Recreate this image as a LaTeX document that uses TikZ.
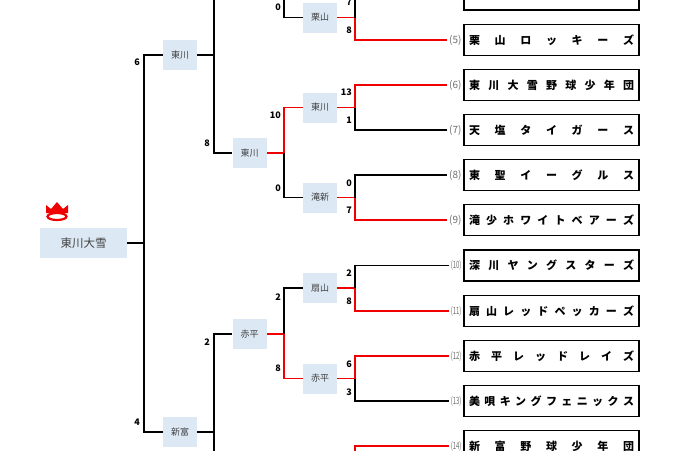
\documentclass[tikz,border=0pt]{standalone}
\usepackage{fontspec}
\setmainfont{Noto Sans CJK JP}
\definecolor{winbox}{HTML}{DCE8F4}
\definecolor{seedgray}{HTML}{6E6E6E}
\definecolor{winred}{HTML}{F00000}
\tikzset{
	team/.style={draw, line width=1.6pt, minimum width=175pt, minimum height=31pt, inner sep=0pt, font=\fontsize{11}{12}\selectfont\bfseries},
	win/.style={fill=winbox, minimum width=34pt, minimum height=30pt, inner sep=0pt, text=black!75, font=\fontsize{9}{10}\selectfont},
	score/.style={anchor=east, inner sep=0pt, font=\fontsize{9}{10}\selectfont\bfseries},
	seed/.style={anchor=east, inner sep=1.5pt, text=seedgray, font=\fontsize{10}{11}\selectfont},
	lose/.style={line width=1.6pt, black},
	won/.style={line width=1.9pt, winred},
}
\newcommand{\tname}[1]{\makebox[165pt][s]{#1}}
\begin{document}
\begin{tikzpicture}[x=1pt,y=-1pt]
\useasboundingbox (0,0) rectangle (680,450);
\clip (0,0) rectangle (680,450);

%Teams
\node [team] (t4)  at (551.5,-5.5) {\tname{砂\hfill 川\hfill イ\hfill ー\hfill グ\hfill ル\hfill ス}};
\node [team] (t5)  at (551.5,40)   {\tname{栗\hfill 山\hfill ロ\hfill ッ\hfill キ\hfill ー\hfill ズ}};
\node [team] (t6)  at (551.5,85)   {\tname{東\hfill 川\hfill 大\hfill 雪\hfill 野\hfill 球\hfill 少\hfill 年\hfill 団}};
\node [team] (t7)  at (551.5,130)  {\tname{天\hfill 塩\hfill タ\hfill イ\hfill ガ\hfill ー\hfill ス}};
\node [team] (t8)  at (551.5,175)  {\tname{東\hfill 聖\hfill イ\hfill ー\hfill グ\hfill ル\hfill ス}};
\node [team] (t9)  at (551.5,220)  {\tname{滝\hfill 少\hfill ホ\hfill ワ\hfill イ\hfill ト\hfill ベ\hfill ア\hfill ー\hfill ズ}};
\node [team] (t10) at (551.5,265.5){\tname{深\hfill 川\hfill ヤ\hfill ン\hfill グ\hfill ス\hfill タ\hfill ー\hfill ズ}};
\node [team] (t11) at (551.5,311)  {\tname{扇\hfill 山\hfill レ\hfill ッ\hfill ド\hfill ペ\hfill ッ\hfill カ\hfill ー\hfill ズ}};
\node [team] (t12) at (551.5,356)  {\tname{赤\hfill 平\hfill レ\hfill ッ\hfill ド\hfill レ\hfill イ\hfill ズ}};
\node [team] (t13) at (551.5,401)  {\tname{美\hfill 唄\hfill キ\hfill ン\hfill グ\hfill フ\hfill ェ\hfill ニ\hfill ッ\hfill ク\hfill ス}};
\node [team] (t14) at (551.5,446)  {\tname{新\hfill 富\hfill 野\hfill 球\hfill 少\hfill 年\hfill 団}};

%Seeds
\node [seed] (s4)  at (t4.west)  {(4)};
\node [seed] (s5)  at (t5.west)  {(5)};
\node [seed] (s6)  at (t6.west)  {(6)};
\node [seed] (s7)  at (t7.west)  {(7)};
\node [seed] (s8)  at (t8.west)  {(8)};
\node [seed] (s9)  at (t9.west)  {(9)};
\node [seed] (s10) at (t10.west) {\scalebox{0.6}[1]{(10)}};
\node [seed] (s11) at (t11.west) {\scalebox{0.6}[1]{(11)}};
\node [seed] (s12) at (t12.west) {\scalebox{0.6}[1]{(12)}};
\node [seed] (s13) at (t13.west) {\scalebox{0.6}[1]{(13)}};
\node [seed] (s14) at (t14.west) {\scalebox{0.6}[1]{(14)}};

%Winners
\node [win] (kuri)  at (320,17.5)  {栗山};
\node [win] (hk1)   at (320,107.5) {東川};
\node [win] (taki)  at (320,197.5) {滝新};
\node [win] (ogi)   at (320,288)   {扇山};
\node [win] (aka1)  at (320,378.5) {赤平};
\node [win] (hk2)   at (249.5,153) {東川};
\node [win] (aka2)  at (249.5,334) {赤平};
\node [win] (hk3)   at (180,55)    {東川};
\node [win] (shin)  at (180,432)   {新富};
\node [win, minimum width=87pt, font=\fontsize{11.5}{12}\selectfont] (champ) at (83.5,243) {東川大雪};

\coordinate (v1) at (355,0);
\coordinate (v2) at (284,0);
\coordinate (v3) at (214,0);
\coordinate (v4) at (144,0);

%First round
\draw[won]  (kuri.east) -- (kuri.east -| v1) |- (s5.west);
\draw[lose] (kuri.east -| v1) |- (s4.west);
\draw[won]  (hk1.east) -- (hk1.east -| v1) |- (s6.west);
\draw[lose] (hk1.east -| v1) |- (s7.west);
\draw[won]  (taki.east) -- (taki.east -| v1) |- (s9.west);
\draw[lose] (taki.east -| v1) |- (s8.west);
\draw[won]  (ogi.east) -- (ogi.east -| v1) |- (s11.west);
\draw[lose] (ogi.east -| v1) |- (s10.west);
\draw[won]  (aka1.east) -- (aka1.east -| v1) |- (s12.west);
\draw[lose] (aka1.east -| v1) |- (s13.west);
\coordinate (c14) at (355,480);
\draw[won]  (s14.west) -| (c14);

%Second round
\draw[won]  (hk2.east) -- (hk2.east -| v2) |- (hk1.west);
\draw[lose] (hk2.east -| v2) |- (taki.west);
\draw[won]  (aka2.east) -- (aka2.east -| v2) |- (aka1.west);
\draw[lose] (aka2.east -| v2) |- (ogi.west);
\coordinate (c2) at (284,-40);
\draw[lose] (kuri.west) -| (c2);

%Quarter final
\coordinate (c3a) at (214,-40);
\coordinate (c3b) at (214,480);
\draw[lose] (hk3.east) -| (c3a);
\draw[lose] (hk3.east -| v3) |- (hk2.west);
\draw[lose] (shin.east) -| (c3b);
\draw[lose] (shin.east -| v3) |- (aka2.west);

%Semi final
\draw[lose] (hk3.west) -| (champ.east -| v4) |- (shin.west);
\draw[lose] (champ.east) -- (champ.east -| v4);

%Scores
\node [score] at (352,2)   {7};
\node [score] at (352,30)  {8};
\node [score] at (352,92)  {13};
\node [score] at (352,120) {1};
\node [score] at (352,183) {0};
\node [score] at (352,210) {7};
\node [score] at (352,273) {2};
\node [score] at (352,301) {8};
\node [score] at (352,364) {6};
\node [score] at (352,392) {3};
\node [score] at (281,7)   {0};
\node [score] at (281,115) {10};
\node [score] at (281,188) {0};
\node [score] at (281,297) {2};
\node [score] at (281,368) {8};
\node [score] at (210,143) {8};
\node [score] at (210,342) {2};
\node [score] at (140,62)  {6};
\node [score] at (140,422) {4};

%Crown
\fill[winred] (46,213) -- (46,205) -- (51,209) -- (57,202) -- (63,209) -- (68,205) -- (68,213) -- cycle;
\draw[winred, line width=2.2pt, fill=white] (57,216.5) ellipse (9.5pt and 3.5pt);
\end{tikzpicture}
\end{document}
